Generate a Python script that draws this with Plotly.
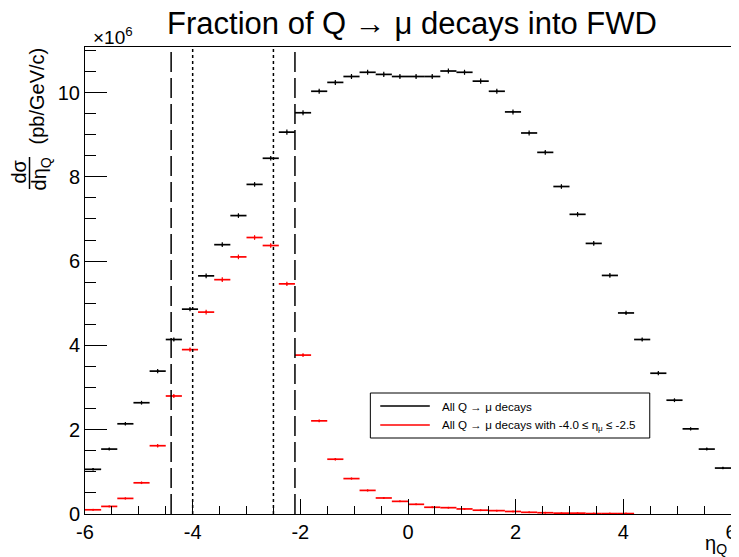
import plotly.graph_objects as go

# ---------------- data (values in units of 10^6 pb/GeV/c) ----------------
bin_lo, bin_hi, n_bins = -6.0, 6.0, 40
bin_width = (bin_hi - bin_lo) / n_bins
eta_centers = [bin_lo + bin_width * (i + 0.5) for i in range(n_bins)]

all_decays = [1.06, 1.54, 2.14, 2.64, 3.39, 4.14, 4.86, 5.65, 6.39, 7.08,
              7.82, 8.44, 9.06, 9.52, 10.03, 10.24, 10.38, 10.48, 10.43, 10.38,
              10.38, 10.38, 10.51, 10.48, 10.27, 10.03, 9.54, 9.04, 8.58, 7.77,
              7.11, 6.42, 5.66, 4.77, 4.14, 3.34, 2.70, 2.02, 1.54, 1.09]
all_err = [0.03, 0.035, 0.04, 0.045, 0.05, 0.05, 0.05, 0.055, 0.055, 0.055,
           0.055, 0.055, 0.06, 0.06, 0.06, 0.06, 0.06, 0.06, 0.06, 0.06,
           0.06, 0.06, 0.06, 0.06, 0.06, 0.06, 0.06, 0.06, 0.055, 0.055,
           0.055, 0.055, 0.055, 0.05, 0.05, 0.05, 0.045, 0.04, 0.035, 0.03]

fwd_decays = [0.10, 0.18, 0.37, 0.74, 1.62, 2.80, 3.90, 4.79, 5.56, 6.10,
              6.56, 6.37, 5.46, 3.77, 2.21, 1.30, 0.84, 0.56, 0.38, 0.30,
              0.23, 0.16, 0.15, 0.12, 0.09, 0.08, 0.06, 0.04, 0.03, 0.02,
              0.02, 0.01, 0.01, 0.01, None, None, None, None, None, None]
fwd_err = [0.01, 0.015, 0.02, 0.03, 0.04, 0.05, 0.05, 0.055, 0.055, 0.055,
           0.055, 0.055, 0.05, 0.045, 0.035, 0.03, 0.02, 0.02, 0.015, 0.01,
           0.01, 0.01, 0.01, 0.01, 0.005, 0.005, 0.005, 0.005, 0.005, 0.005,
           0.005, 0.005, 0.005, 0.005, 0, 0, 0, 0, 0, 0]

muon_acceptance = [-4.0, -2.5]      # dotted lines
quark_window = [-4.4, -2.1]         # long-dashed lines

x_ticks = [-6, -4, -2, 0, 2, 4, 6]
x_tick_labels = ["-6", "-4", "-2", "0", "2", "4", "6"]
y_ticks = [0, 2, 4, 6, 8, 10]
y_tick_labels = ["0", "2", "4", "6", "8", "10"]

title_text = "Fraction of Q \u2192 \u03bc decays into FWD"
name_all = "All Q \u2192 \u03bc decays"
name_fwd = "All Q \u2192 \u03bc decays with -4.0 \u2264 \u03b7<sub>\u03bc</sub> \u2264 -2.5"
series_colors = ["black", "#ff0000"]

# ---------------- figure geometry ----------------
FONT = "Liberation Sans, Arial, Helvetica, sans-serif"
OFF = 8                      # page body margin
W, H = 739 - OFF, 557 - OFF
PL, PT, PR, PB = 85, 47, 737, 514          # plot frame in screen pixels
ML, MT = PL - OFF, PT - OFF
MR, MB = W - (PR - OFF), H - (PB - OFF)
PW, PH = PR - PL, PB - PT

def px(xpix):
    return (xpix - PL) / PW

def py(ypix):
    return (PB - ypix) / PH

fig = go.Figure()

for yvals, errs, col in [(all_decays, all_err, series_colors[0]),
                         (fwd_decays, fwd_err, series_colors[1])]:
    fig.add_trace(go.Scatter(
        x=eta_centers, y=yvals, mode="markers",
        marker=dict(size=2, color=col),
        error_x=dict(type="constant", value=bin_width / 2, width=0, thickness=1.7, color=col),
        error_y=dict(type="data", array=errs, width=0, thickness=1.2, color=col),
        showlegend=False, hoverinfo="x+y"))

for xv in muon_acceptance:
    fig.add_shape(type="line", xref="x", yref="paper", x0=xv, x1=xv, y0=0, y1=1,
                  line=dict(color="black", width=1.5, dash="3px,3px"))
for xv in quark_window:
    fig.add_shape(type="line", xref="x", yref="paper", x0=xv, x1=xv, y0=0, y1=1,
                  line=dict(color="black", width=1.5, dash="20px,6px"))

axis_common = dict(
    showline=True, linecolor="black", linewidth=1, mirror=True,
    showgrid=False, zeroline=False, ticks="inside", tickcolor="black",
    tickwidth=1, tickfont=dict(family=FONT, size=20, color="black"),
    ticklabeloverflow="allow",
)

fig.update_xaxes(range=[bin_lo, bin_hi], tickvals=x_ticks, ticktext=x_tick_labels, ticklen=15,
                 minor=dict(ticks="inside", dtick=0.5, ticklen=8, tickcolor="black", tickwidth=1),
                 **axis_common)
fig.update_yaxes(range=[0, 11.08], tickvals=y_ticks, ticktext=y_tick_labels, ticklen=22,
                 minor=dict(ticks="inside", dtick=0.5, ticklen=11, tickcolor="black", tickwidth=1),
                 **axis_common)

annotations = [
    dict(text="\u00d710<sup>6</sup>", x=px(91), y=py(36), xref="paper", yref="paper",
         xanchor="left", yanchor="middle", showarrow=False,
         font=dict(family=FONT, size=19, color="black")),
    dict(text="\u03b7<sub>Q</sub>", x=px(735), y=py(544), xref="paper", yref="paper",
         xanchor="right", yanchor="middle", showarrow=False,
         font=dict(family=FONT, size=20, color="black")),
    dict(text="(pb/GeV/c)", x=px(37), y=py(96), xref="paper", yref="paper",
         xanchor="center", yanchor="middle", textangle=-90, showarrow=False,
         font=dict(family=FONT, size=20, color="black")),
    dict(text="d\u03c3", x=px(18), y=py(172), xref="paper", yref="paper",
         xanchor="center", yanchor="middle", textangle=-90, showarrow=False,
         font=dict(family=FONT, size=20, color="black")),
    dict(text="d\u03b7<sub>Q</sub>", x=px(40), y=py(174), xref="paper", yref="paper",
         xanchor="center", yanchor="middle", textangle=-90, showarrow=False,
         font=dict(family=FONT, size=20, color="black")),
]
fig.add_shape(type="line", xref="paper", yref="paper", x0=px(29), x1=px(29),
              y0=py(157), y1=py(189), line=dict(color="black", width=1.5))

# ---------------- legend box (ROOT TLegend style) ----------------
fig.add_shape(type="rect", xref="paper", yref="paper",
              x0=px(373), x1=px(655), y0=py(438), y1=py(393),
              line=dict(color="black", width=1), fillcolor="white", layer="above")
for name, col, ypix in [(name_all, series_colors[0], 406), (name_fwd, series_colors[1], 425)]:
    fig.add_shape(type="line", xref="paper", yref="paper",
                  x0=px(383), x1=px(433), y0=py(ypix), y1=py(ypix),
                  line=dict(color=col, width=1.5), layer="above")
    annotations.append(dict(text=name, x=px(443), y=py(ypix), xref="paper", yref="paper",
                            xanchor="left", yanchor="middle", showarrow=False,
                            font=dict(family=FONT, size=11.6, color="black")))

fig.update_layout(
    width=W, height=H,
    margin=dict(l=ML, r=MR, t=MT, b=MB, pad=0),
    paper_bgcolor="white", plot_bgcolor="white",
    title=dict(text=title_text, x=(412 - OFF) / W, xanchor="center",
               y=1 - (23 - OFF) / H, yanchor="middle", yref="container",
               font=dict(family=FONT, size=31, color="black")),
    annotations=annotations,
    showlegend=False,
)

fig.write_html("out.html")
